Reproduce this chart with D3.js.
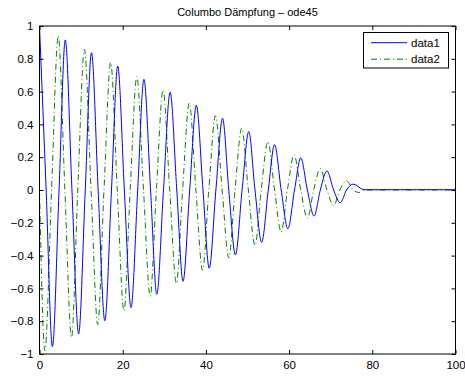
<!DOCTYPE html>
<html><head><meta charset="utf-8">
<script src="https://cdn.jsdelivr.net/npm/d3@7"></script>
<style>body{margin:0;background:#fff}svg{display:block}text{font-family:"Liberation Sans",Arial,sans-serif;fill:#000}</style>
</head><body><svg id="c" width="465" height="376"></svg>
<script>
// data1 (blue, solid): times of read extrema / zero crossings and values
const t1 = [0,1.6,3.1,4.7,6.2,7.8,9.4,11.0,12.5,14.1,15.7,17.3,18.8,20.4,22.0,23.6,25.1,26.7,28.2,29.8,31.4,33.0,34.5,36.1,37.7,39.3,40.8,42.4,44.0,45.5,47.1,48.7,50.3,51.8,53.4,55.0,56.5,58.1,59.7,61.3,62.8,64.4,66.0,67.5,69.1,70.7,72.3,73.8,75.4,78.0,100];
const y1 = [1,0,-0.955,0,0.915,0,-0.877,0,0.837,0,-0.797,0,0.756,0,-0.717,0,0.675,0,-0.636,0,0.596,0,-0.557,0,0.516,0,-0.477,0,0.437,0,-0.396,0,0.356,0,-0.319,0,0.276,0,-0.236,0,0.195,0,-0.159,0,0.116,0,-0.078,0,0.036,0.002,0.002];
// data2 (green, dash-dot)
const t2 = [0,1.3,2.9,4.5,6.1,7.7,9.2,10.8,12.4,14.0,15.5,17.1,18.7,20.3,21.8,23.4,25.0,26.6,28.1,29.7,31.3,32.9,34.4,36.0,37.6,39.2,40.7,42.3,43.9,45.5,47.0,48.6,50.2,51.8,53.3,54.9,56.5,58.1,59.6,61.2,62.8,64.4,65.9,67.5,69.1,70.7,72.2,73.8,75.4,76.8,78.2,100];
const y2 = [0,-0.98,0,0.94,0,-0.9,0,0.858,0,-0.82,0,0.778,0,-0.738,0,0.692,0,-0.648,0,0.61,0,-0.57,0,0.53,0,-0.49,0,0.453,0,-0.415,0,0.376,0,-0.338,0,0.295,0,-0.256,0,0.215,0,-0.173,0,0.13,0,-0.095,0,0.056,0,-0.015,0,0];
const xTicks = [0,20,40,60,80,100];
const yTicks = [-1,-0.8,-0.6,-0.4,-0.2,0,0.2,0.4,0.6,0.8,1];
const yTickLabels = ["\u22121","\u22120.8","\u22120.6","\u22120.4","\u22120.2","0","0.2","0.4","0.6","0.8","1"];
const seriesNames = ["data1","data2"];
const title = "Columbo D\u00e4mpfung \u2013 ode45";

const svg = d3.select("#c");
const L=39.5, R=455.5, T=26, B=354;
const x = d3.scaleLinear().domain([0,100]).range([L,R]);
const y = d3.scaleLinear().domain([-1,1]).range([B,T]);

const line = d3.line().x(d=>x(d[0])).y(d=>y(d[1])).curve(d3.curveMonotoneX);
svg.append("clipPath").attr("id","cl").append("rect").attr("x",L).attr("y",T).attr("width",R-L).attr("height",B-T);
const g = svg.append("g").attr("clip-path","url(#cl)");
g.append("path").datum(t2.map((t,i)=>[t,y2[i]])).attr("d",line).attr("fill","none")
 .attr("stroke","#008000").attr("stroke-width",1).attr("stroke-dasharray","6,3,1,3");
g.append("path").datum(t1.map((t,i)=>[t,y1[i]])).attr("d",line).attr("fill","none")
 .attr("stroke","#0000ff").attr("stroke-width",1);

// axes
const fs = "11.5px";
const ax = svg.append("g").attr("transform",`translate(0,${B})`).call(d3.axisBottom(x).tickValues(xTicks).tickSizeInner(-4).tickSizeOuter(0).tickPadding(7));
const axT = svg.append("g").attr("transform",`translate(0,${T})`).call(d3.axisTop(x).tickValues(xTicks).tickSizeInner(-4).tickSizeOuter(0).tickFormat(""));
const ay = svg.append("g").attr("transform",`translate(${L},0)`).call(d3.axisLeft(y).tickValues(yTicks).tickSizeInner(-4).tickSizeOuter(0).tickPadding(6).tickFormat((d,i)=>yTickLabels[i]));
const ayR = svg.append("g").attr("transform",`translate(${R},0)`).call(d3.axisRight(y).tickValues(yTicks).tickSizeInner(-4).tickSizeOuter(0).tickFormat(""));
[ax,axT,ay,ayR].forEach(a=>{a.select(".domain").remove();a.selectAll("line").attr("stroke","#000");a.selectAll("text").style("font-size",fs).style("font-family","'Liberation Sans',Arial,sans-serif");});
svg.append("rect").attr("x",L).attr("y",T).attr("width",R-L).attr("height",B-T).attr("fill","none").attr("stroke","#000").attr("stroke-width",1);

svg.append("text").attr("x",(L+R)/2).attr("y",15.8).attr("text-anchor","middle").style("font-size","11px").text(title);

// legend
const lg = svg.append("g");
lg.append("rect").attr("x",363.5).attr("y",32.5).attr("width",85).attr("height",35.5).attr("fill","#fff").attr("stroke","#000");
const lstyles = [{c:"#0000ff",d:null},{c:"#008000",d:"6,3,1,3"}];
seriesNames.forEach((n,i)=>{
  const yy = 42.7 + i*16.5;
  const l = lg.append("line").attr("x1",371).attr("x2",407).attr("y1",yy).attr("y2",yy).attr("stroke",lstyles[i].c).attr("stroke-width",1);
  if(lstyles[i].d) l.attr("stroke-dasharray",lstyles[i].d);
  lg.append("text").attr("x",411).attr("y",yy+4).style("font-size",fs).text(n);
});
</script></body></html>
